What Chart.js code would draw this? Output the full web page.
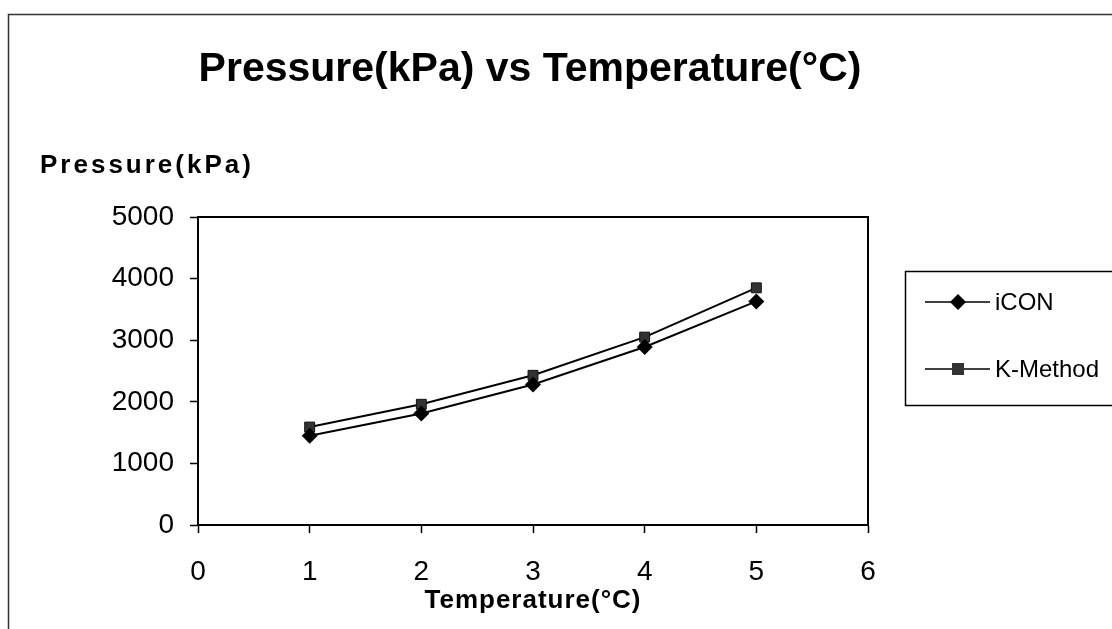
<!DOCTYPE html>
<html>
<head>
<meta charset="utf-8">
<script src="https://cdn.jsdelivr.net/npm/chart.js@4/dist/chart.umd.min.js"></script>
<style>
  html, body { margin: 0; padding: 0; background: #fff; }
  #wrap { width: 1112px; height: 629px; position: relative; }
</style>
</head>
<body>
<div id="wrap"><canvas id="chart"></canvas></div>
<script>
// Data
const temperatures = [1, 2, 3, 4, 5];
const iconPressure = [1450, 1810, 2280, 2890, 3630];
const kMethodPressure = [1590, 1960, 2430, 3050, 3850];
const seriesNames = ['iCON', 'K-Method'];
const xTicks = [0, 1, 2, 3, 4, 5, 6];
const yTicks = [0, 1000, 2000, 3000, 4000, 5000];

const chartTitle = 'Pressure(kPa) vs Temperature(°C)';
const xTitle = 'Temperature(°C)';
const yTitle = 'Pressure(kPa)';

const FONT = '"Liberation Sans", Arial, sans-serif';

function toPoints(values) {
  return temperatures.map((t, i) => ({ x: t, y: values[i] }));
}

// Frame, titles, plot border and legend drawn around the chart
const decorations = {
  id: 'decorations',
  beforeDraw(chart) {
    const ctx = chart.ctx;
    ctx.save();
    ctx.fillStyle = '#fff';
    ctx.fillRect(0, 0, chart.width, chart.height);
    ctx.strokeStyle = '#333';
    ctx.lineWidth = 1.5;
    ctx.strokeRect(8.5, 14.5, 1200, 700);
    ctx.restore();
  },
  afterDraw(chart) {
    const ctx = chart.ctx;
    const a = chart.chartArea;
    ctx.save();

    // plot area border
    ctx.strokeStyle = '#000';
    ctx.lineWidth = 2;
    ctx.strokeRect(a.left, a.top, a.right - a.left, a.bottom - a.top);

    ctx.fillStyle = '#000';
    ctx.textBaseline = 'middle';

    // chart title
    ctx.font = 'bold 41px ' + FONT;
    ctx.textAlign = 'center';
    ctx.fillText(chartTitle, 530, 70);

    // y axis title (horizontal, top left)
    ctx.font = 'bold 26px ' + FONT;
    ctx.letterSpacing = '3px';
    ctx.textAlign = 'left';
    ctx.fillText(yTitle, 40, 166);

    // x axis title
    ctx.letterSpacing = '1px';
    ctx.textAlign = 'center';
    ctx.fillText(xTitle, (a.left + a.right) / 2, 601);
    ctx.letterSpacing = '0px';

    // legend
    ctx.strokeStyle = '#000';
    ctx.lineWidth = 1.5;
    ctx.strokeRect(905.5, 271.5, 300, 134);
    const rows = [302, 369];
    chart.data.datasets.forEach((ds, i) => {
      const y = rows[i];
      ctx.strokeStyle = '#000';
      ctx.lineWidth = 1.5;
      ctx.beginPath();
      ctx.moveTo(925, y);
      ctx.lineTo(990, y);
      ctx.stroke();
      ctx.fillStyle = ds.pointBackgroundColor;
      if (ds.pointStyle === 'rectRot') {
        ctx.beginPath();
        ctx.moveTo(958, y - 8);
        ctx.lineTo(966, y);
        ctx.lineTo(958, y + 8);
        ctx.lineTo(950, y);
        ctx.closePath();
        ctx.fill();
      } else {
        ctx.fillRect(952, y - 6, 12, 12);
      }
      ctx.fillStyle = '#000';
      ctx.font = '24px ' + FONT;
      ctx.textAlign = 'left';
      ctx.fillText(ds.label, 995, y + 1);
    });
    ctx.restore();
  }
};

new Chart(document.getElementById('chart'), {
  type: 'line',
  data: {
    datasets: [
      {
        label: seriesNames[0],
        data: toPoints(iconPressure),
        borderColor: '#000',
        borderWidth: 2,
        pointStyle: 'rectRot',
        pointRadius: 8,
        pointBackgroundColor: '#000',
        pointBorderColor: '#000',
        pointBorderWidth: 0,
        tension: 0
      },
      {
        label: seriesNames[1],
        data: toPoints(kMethodPressure),
        borderColor: '#000',
        borderWidth: 2,
        pointStyle: 'rect',
        pointRadius: 7,
        pointBackgroundColor: '#333',
        pointBorderColor: '#111',
        pointBorderWidth: 1,
        tension: 0
      }
    ]
  },
  options: {
    responsive: true,
    maintainAspectRatio: false,
    animation: false,
    layout: { padding: { top: 217, right: 244, bottom: 0, left: 0 } },
    plugins: {
      legend: { display: false },
      title: { display: false },
      tooltip: { enabled: false }
    },
    scales: {
      x: {
        type: 'linear',
        min: 0,
        max: 6,
        afterFit: (scale) => { scale.height = 104; },
        afterBuildTicks: (scale) => { scale.ticks = xTicks.map(v => ({ value: v })); },
        grid: { drawOnChartArea: false, tickLength: 8, tickColor: '#000', tickWidth: 1.5 },
        border: { display: true, color: '#000', width: 2 },
        ticks: { color: '#000', padding: 22, font: { family: FONT, size: 28 }, callback: (v) => String(v) }
      },
      y: {
        min: 0,
        max: 5000,
        afterFit: (scale) => { scale.width = 198; },
        afterBuildTicks: (scale) => { scale.ticks = yTicks.map(v => ({ value: v })); },
        grid: { drawOnChartArea: false, tickLength: 8, tickColor: '#000', tickWidth: 1.5 },
        border: { display: true, color: '#000', width: 2 },
        ticks: { color: '#000', padding: 16, font: { family: FONT, size: 28 }, callback: (v) => String(v) }
      }
    }
  },
  plugins: [decorations]
});
</script>
</body>
</html>
